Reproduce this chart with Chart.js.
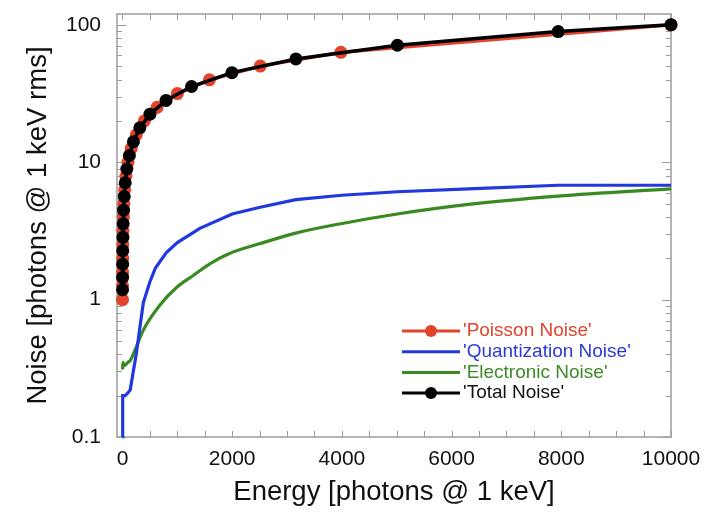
<!DOCTYPE html>
<html>
<head>
<meta charset="utf-8">
<script src="https://cdn.jsdelivr.net/npm/chart.js@4.4.0/dist/chart.umd.min.js"></script>
<style>
  html, body { margin: 0; padding: 0; background: #fff; }
  #wrap { width: 716px; height: 513px; }
</style>
</head>
<body>
<div id="wrap"><canvas id="chart" width="716" height="513"></canvas></div>
<script>
// energy in photons @ 1 keV, noise in photons @ 1 keV rms
const poissonE = [1, 1.585, 2.512, 3.981, 6.31, 10, 15.85, 25.12, 39.81, 63.1, 100, 158.5, 251.2, 398.1, 631, 1000, 1585, 2512, 3981, 10000];
const poissonNoise = [1.0, 1.26, 1.58, 2.0, 2.51, 3.16, 3.98, 5.01, 6.31, 7.94, 10.0, 12.6, 15.8, 20.0, 25.1, 31.6, 39.8, 50.1, 63.1, 100];

const quantE = [1, 2, 3, 4, 6, 10, 50, 100, 140, 250, 380, 500, 600, 800, 1000, 1410, 2000, 2510, 3160, 4000, 5010, 6310, 7940, 10000];
const quantNoise = [0.1, 0.19, 0.2, 0.17, 0.2, 0.2, 0.2, 0.21, 0.22, 0.4, 0.95, 1.35, 1.7, 2.2, 2.6, 3.3, 4.2, 4.7, 5.35, 5.75, 6.1, 6.4, 6.8, 6.8];

const elecE = [1, 10, 30, 100, 140, 230, 380, 680, 1000, 1290, 1600, 1930, 2510, 3160, 3980, 5010, 6310, 7940, 10000];
const elecNoise = [0.31, 0.35, 0.33, 0.35, 0.36, 0.43, 0.6, 0.91, 1.24, 1.5, 1.83, 2.15, 2.56, 3.05, 3.57, 4.2, 4.93, 5.66, 6.4];

const totalE = [1.259, 1.995, 3.162, 5.012, 7.943, 12.59, 19.95, 31.62, 50.12, 79.43, 125.9, 199.5, 316.2, 501.2, 794.3, 1259, 1995, 3162, 5012, 7943, 10000];
const totalNoise = [1.18, 1.45, 1.81, 2.27, 2.84, 3.56, 4.48, 5.63, 7.09, 8.93, 11.2, 14.1, 17.8, 22.4, 28.2, 35.6, 44.9, 56.5, 71.1, 89.4, 100.4];

const xTicks = [0, 2000, 4000, 6000, 8000, 10000];
const yTicks = [0.1, 1, 10, 100];

const FONT = "'Liberation Sans', Arial, Helvetica, sans-serif";
const RED = '#e2432d', BLUE = '#2038dd', GREEN = '#3a8a22', BLACK = '#000';

const pts = (xs, ys) => xs.map((x, i) => ({ x: x, y: ys[i] }));

// box round the plot with inward ticks on all four sides
const frameTicks = {
  id: 'frameTicks',
  beforeDatasetsDraw(chart) {
    const { ctx, chartArea: a, scales: { x, y } } = chart;
    ctx.save();
    ctx.strokeStyle = '#9c9c9c';
    ctx.lineWidth = 1;
    ctx.beginPath();
    for (let v = 0; v <= 10000; v += 500) {
      const px = Math.round(x.getPixelForValue(v)) + 0.5;
      ctx.moveTo(px, a.bottom); ctx.lineTo(px, a.bottom - 6);
      ctx.moveTo(px, a.top); ctx.lineTo(px, a.top + 6);
    }
    [0.1, 1, 10].forEach(d => {
      for (let m = 1; m <= 9; m++) {
        const py = Math.round(y.getPixelForValue(d * m)) + 0.5;
        const len = m === 1 ? 9 : 5;
        ctx.moveTo(a.left, py); ctx.lineTo(a.left + len, py);
        ctx.moveTo(a.right, py); ctx.lineTo(a.right - len, py);
      }
    });
    const p100 = Math.round(y.getPixelForValue(100)) + 0.5;
    ctx.moveTo(a.left, p100); ctx.lineTo(a.left + 9, p100);
    ctx.moveTo(a.right, p100); ctx.lineTo(a.right - 9, p100);
    ctx.stroke();
    ctx.lineWidth = 1.5;
    ctx.strokeRect(a.left, a.top, a.right - a.left, a.bottom - a.top);
    ctx.restore();
  }
};

// legend inside the plot, lower right
const legendBox = {
  id: 'legendBox',
  afterDraw(chart) {
    const ctx = chart.ctx;
    const rows = [
      { text: "'Poisson Noise'", color: RED, text2: '#e2432d', marker: true },
      { text: "'Quantization Noise'", color: BLUE, text2: '#2a3ad8', marker: false },
      { text: "'Electronic Noise'", color: GREEN, text2: '#3d8a27', marker: false },
      { text: "'Total Noise'", color: BLACK, text2: '#111', marker: true }
    ];
    ctx.save();
    ctx.font = '19px ' + FONT;
    ctx.textBaseline = 'middle';
    rows.forEach((r, i) => {
      const yy = 331 + i * 20.7;
      ctx.strokeStyle = r.color;
      ctx.lineWidth = 3;
      ctx.beginPath();
      ctx.moveTo(402, yy); ctx.lineTo(460, yy);
      ctx.stroke();
      if (r.marker) {
        ctx.fillStyle = r.color;
        ctx.beginPath();
        ctx.arc(431, yy, 6, 0, Math.PI * 2);
        ctx.fill();
      }
      ctx.fillStyle = r.text2;
      ctx.fillText(r.text, 463, yy);
    });
    ctx.restore();
  }
};

const ctx = document.getElementById('chart').getContext('2d');
new Chart(ctx, {
  type: 'line',
  data: {
    datasets: [
      { label: "'Poisson Noise'", data: pts(poissonE, poissonNoise), borderColor: RED, backgroundColor: RED,
        borderWidth: 3.5, pointRadius: 6.5, pointBorderWidth: 0, order: 1, clip: false },
      { label: "'Quantization Noise'", data: pts(quantE, quantNoise), borderColor: BLUE, backgroundColor: BLUE,
        borderWidth: 3.2, pointRadius: 0, order: 2, clip: false },
      { label: "'Electronic Noise'", data: pts(elecE, elecNoise), borderColor: GREEN, backgroundColor: GREEN,
        borderWidth: 3.2, pointRadius: 0, order: 3, clip: false, cubicInterpolationMode: 'monotone' },
      { label: "'Total Noise'", data: pts(totalE, totalNoise), borderColor: BLACK, backgroundColor: BLACK,
        borderWidth: 3.5, pointRadius: 6.5, pointBorderWidth: 0, order: 0, clip: false }
    ]
  },
  options: {
    responsive: false,
    animation: false,
    layout: { padding: { top: 14, right: 45, left: 0, bottom: 0 } },
    plugins: { legend: { display: false }, tooltip: { enabled: false } },
    scales: {
      x: {
        type: 'linear',
        min: -100,
        max: 10000,
        grid: { display: false, drawTicks: false },
        border: { display: false },
        afterBuildTicks: s => { s.ticks = xTicks.map(v => ({ value: v })); },
        afterFit: s => { s.height = 76; s.paddingLeft = 0; s.paddingRight = 0; },
        ticks: { autoSkip: false, maxRotation: 0, padding: 10, color: '#111',
                 font: { family: FONT, size: 21 }, callback: v => String(v) },
        title: { display: true, text: 'Energy [photons @ 1 keV]', color: '#111',
                 font: { family: FONT, size: 27.5 }, padding: { top: 0, bottom: 4 } }
      },
      y: {
        type: 'logarithmic',
        min: 0.1,
        max: 120,
        grid: { display: false, drawTicks: false },
        border: { display: false },
        afterBuildTicks: s => { s.ticks = yTicks.map(v => ({ value: v })); },
        afterFit: s => { s.width = 117; s.paddingTop = 0; s.paddingBottom = 0; },
        ticks: { autoSkip: false, padding: 16, color: '#111',
                 font: { family: FONT, size: 21 }, callback: v => String(v) },
        title: { display: true, text: 'Noise [photons @ 1 keV rms]', color: '#111',
                 font: { family: FONT, size: 27.5 }, padding: { top: 22, bottom: 0 } }
      }
    }
  },
  plugins: [frameTicks, legendBox]
});
</script>
</body>
</html>
